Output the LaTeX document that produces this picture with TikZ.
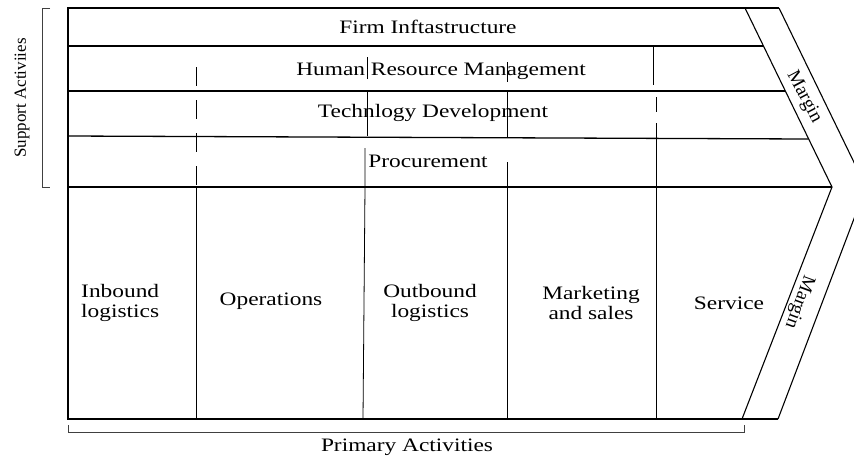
\documentclass[tikz,border=0pt]{standalone}
\usepackage{fontspec}
\setmainfont{Liberation Serif}
\begin{document}
\begin{tikzpicture}[x=1pt,y=-1pt,
  rowline/.style={line width=1.3pt},
  frameline/.style={line width=1.1pt},
  divider/.style={line width=0.8pt},
  dashdiv/.style={line width=0.8pt, dash pattern=on 19pt off 14pt},
  bracketline/.style={line width=0.9pt, black!75},
  lbl/.style={font=\fontsize{19}{20}\selectfont, inner sep=0pt, xscale=1.23},
  marginlbl/.style={font=\fontsize{19}{20}\selectfont, inner sep=0pt},
  sidelbl/.style={font=\fontsize{17}{19}\selectfont, inner sep=0pt}]
\useasboundingbox (0,0) rectangle (854,459);

% chevron corner points
\coordinate (TL) at (68,8);
\coordinate (BL) at (68,419);
\coordinate (innerTop) at (745,8);
\coordinate (innerTip) at (832,187);
\coordinate (innerBot) at (742,419);
\coordinate (outerTop) at (779,8);
\coordinate (outerTip) at (866,187);
\coordinate (outerBot) at (778,419);

\begin{scope}
\clip (0,0) rectangle (854,459);
% outline of the value chain arrow
\draw[frameline] (outerTop) -- (TL) -- (BL) -- (outerBot);
\draw[frameline] (innerTop) -- (innerTip) -- (innerBot);
\draw[frameline] (outerTop) -- (outerTip) -- (outerBot);
\end{scope}

% row separators of the support activities
\coordinate (r1L) at (68,46);   \coordinate (r1R) at (763,46);
\coordinate (r2L) at (68,91);   \coordinate (r2R) at (785,91);
\coordinate (r3L) at (68,136);  \coordinate (r3R) at (808,139);
\coordinate (r4L) at (68,187);
\draw[rowline] (r1L) -- (r1R);
\draw[rowline] (r2L) -- (r2R);
\draw[rowline] (r3L) -- (r3R);
\draw[rowline] (r4L) -- (innerTip);

% first column divider: dashed above, solid below
\coordinate (aTop) at (196,67);
\coordinate (aMid) at (196,187);
\coordinate (aBot) at (196,419);
\draw[dashdiv] (aTop) -- (aMid);
\draw[divider] (aMid) -- (aBot);

% second column divider
\coordinate (b1) at (367,57);  \coordinate (b2) at (367,79);
\coordinate (b3) at (367,91);  \coordinate (b4) at (367,136);
\coordinate (b5) at (365,148); \coordinate (b6) at (365,187);
\coordinate (b7) at (363,419);
\draw[divider] (b1) -- (b2);
\draw[divider] (b3) -- (b4);
\draw[divider] (b5) -- (b6) -- (b7);

% third column divider
\coordinate (c1) at (507,62);  \coordinate (c2) at (507,82);
\coordinate (c3) at (507,92);  \coordinate (c4) at (507,138);
\coordinate (c5) at (507,162); \coordinate (c6) at (507,419);
\draw[divider] (c1) -- (c2);
\draw[divider] (c3) -- (c4);
\draw[divider] (c5) -- (c6);

% fourth column divider
\coordinate (d1) at (653,46);  \coordinate (d2) at (653,85);
\coordinate (d3) at (656,97);  \coordinate (d4) at (656,112);
\coordinate (d5) at (656,123); \coordinate (d6) at (656,419);
\draw[divider] (d1) -- (d2);
\draw[divider] (d3) -- (d4);
\draw[divider] (d5) -- (d6);

% support activity labels
\node[lbl] (firm) at (428,27) {Firm Inftastructure};
\node[lbl] (hrm) at (441,71) {Human Resource Management};
\node[lbl] (tech) at (433,113) {Technlogy Development};
\node[lbl] (proc) at (428,161) {Procurement};

% primary activity labels
\node[lbl, anchor=west, align=left] (inbound) at (81,303) {Inbound\\logistics};
\node[lbl] (ops) at (271,301) {Operations};
\node[lbl, align=center] (outbound) at (430,303) {Outbound\\logistics};
\node[lbl, align=center] (mkt) at (591,303) {Marketing\\and sales};
\node[lbl] (service) at (729,303) {Service};

% margin labels along the arrow head
\node[marginlbl, rotate=-62] (marginTop) at (804,97) {Margin};
\node[marginlbl, rotate=-110] (marginBot) at (799,302) {Margin};

% brackets
\coordinate (sb1) at (50,8);  \coordinate (sb2) at (42,8);
\coordinate (sb3) at (42,187); \coordinate (sb4) at (50,187);
\draw[bracketline] (sb1) -- (sb2) -- (sb3) -- (sb4);
\node[sidelbl, rotate=90] (support) at (22,98) {Support Activiies};

\coordinate (pb1) at (68,425);  \coordinate (pb2) at (68,432);
\coordinate (pb3) at (744,432); \coordinate (pb4) at (744,425);
\draw[bracketline] (pb1) -- (pb2) -- (pb3) -- (pb4);
\node[lbl] (primary) at (407,447) {Primary Activities};
\end{tikzpicture}
\end{document}
